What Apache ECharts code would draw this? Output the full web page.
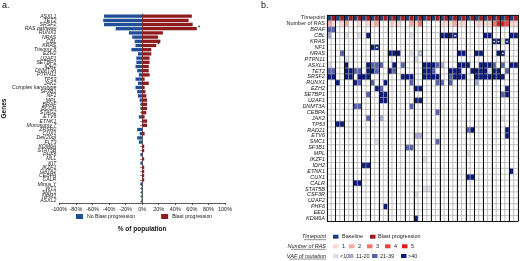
<!DOCTYPE html>
<html><head><meta charset="utf-8">
<script src="https://cdn.jsdelivr.net/npm/echarts@6/dist/echarts.min.js"></script>
<style>html,body{margin:0;padding:0;background:#fff}#c{width:520px;height:261px}</style>
</head><body><div id="c"></div>
<script>
// ---------- Panel a data ----------
const genesA = ['ASXL1','TET2','SRSF2','RAS pathway','RUNX1','NRAS','CBL','KRAS','Trisomy 8','EZH2','U2AF1','SETBP1','IDH2','DNMT3A','PTPN11','TP53','JAK2','Complex karyotype','SF3B1','NF1','MPL','BRAF','BCOR','STAG2','ETV6','ETNK1','Monosomy 7','ZRSR2','CUX1','Del(20q)','FLT3','KDM6A','STAT5B','PHF6','MLL','KIT','IKZF1','GATA2','CEBPA','CALR','Minus Y','WT1','SMC1','NPM1','ASXL2'];
const noBlast = [-46,-47,-46,-32,-16,-12,-9,-8,-13,-5,-7,-7,-8,-6,-4,-8,-5,-8,-6,-5,-3,-2,-2,-1,-4,0,0,-6,-3,-6,-4,0,0,-2,0,-2,0,0,0,0,-2,-1,-1,-1,-1];
const blast   = [60,56,61,66,25,19,22,17,11,11,9,9,8,8,9,3,8,3,4,5,6,6,6,5,3,6,6,0,3,0,0,2.5,2.5,0,2.5,0,2.5,2.5,2.5,2.5,0,0,0,0,0];
const starred = ['RAS pathway','KRAS'];
const seriesNamesA = ['No Blast progression','Blast progression'];

// ---------- Panel b data ----------
const patients = ['Pt1','Pt2','Pt3','Pt4','Pt5','Pt6','Pt7','Pt8','Pt9','Pt10','Pt11','Pt12','Pt13','Pt14','Pt15','Pt16','Pt17','Pt18','Pt19','Pt20','Pt21','Pt22'];
const timepoints = ['Baseline','Blast progression'];
const numRAS = [2,1,0,1,2,0,0,1,0,1,1,2,0,0,1,1,1,0,0,2,1,3,0,0,0,0,1,1,1,2,1,1,0,0,1,1,1,1,3,5,5,4,1,1];
const rasLevels = ['1','2','3','4','5'];
const vafLevels = ['<10','11-20','21-39','>40'];
// [gene, [column, VAF level 1..4] ...]
const vafRows = [
 ['BRAF',  [[0,3],[1,3]]],
 ['CBL',   [[0,2],[4,1],[7,1],[9,4],[19,1],[26,4],[27,4],[28,4],[29,4],[36,4],[37,4],[42,4],[43,4]]],
 ['KRAS',  [[38,4],[39,4],[40,1],[41,4]]],
 ['NF1',   [[10,4],[11,4]]],
 ['NRAS',  [[3,3],[14,4],[15,4],[16,4],[19,1],[21,2],[30,4],[31,4],[34,4],[35,4],[39,4],[40,4]]],
 ['PTPN11',[[4,1],[20,1]]],
 ['ASXL1', [[0,1],[4,4],[9,4],[10,3],[11,3],[12,3],[15,4],[17,3],[22,4],[23,4],[24,4],[25,3],[26,2],[30,4],[31,4],[32,4],[35,4],[36,4],[37,4],[38,3],[40,3],[42,4],[43,4]]],
 ['TET2',  [[0,3],[1,3],[4,4],[5,4],[6,3],[7,3],[9,4],[10,4],[11,3],[14,4],[15,3],[22,4],[23,4],[24,3],[28,4],[29,4],[30,4],[33,4],[34,4],[35,4],[36,4],[37,1],[38,4],[39,4],[41,3]]],
 ['SRSF2', [[0,4],[1,4],[4,4],[5,4],[7,4],[8,4],[9,4],[17,4],[18,4],[19,4],[22,4],[23,4],[24,4],[25,4],[28,3],[29,4],[30,4],[31,4],[34,4],[35,4],[36,4],[37,4],[38,4],[39,4],[40,4]]],
 ['RUNX1', [[2,4],[6,4],[7,3],[10,3],[13,4],[19,3],[25,3],[26,3],[28,3],[34,2]]],
 ['EZH2',  [[11,4],[12,3],[20,4],[21,4],[41,4]]],
 ['SETBP1',[[9,3],[12,4],[13,4],[40,3],[41,4]]],
 ['U2AF1', [[12,4],[13,4],[20,4],[21,4]]],
 ['DNMT3A',[[6,3],[7,3],[19,3]]],
 ['CEBPA', [[25,3]]],
 ['JAK2',  [[9,3],[12,2],[40,1]]],
 ['TP53',  [[2,4],[3,4]]],
 ['RAD21', [[32,3],[33,4],[41,4]]],
 ['ETV6',  [[20,2],[21,2],[41,4]]],
 ['SMC1',  [[11,1],[25,3]]],
 ['SF3B1', [[18,3],[19,3]]],
 ['MPL',   [[32,1]]],
 ['IKZF1', [[22,1]]],
 ['IDH2',  [[8,4],[9,4]]],
 ['ETNK1', [[42,4]]],
 ['CUX1',  [[32,4],[33,4]]],
 ['CALR',  [[6,4],[7,4]]],
 ['STAT5B',[[22,1],[23,1]]],
 ['CSF3R', [[20,1]]],
 ['U2AF2', []],
 ['PHF6',  [[13,4]]],
 ['EED',   []],
 ['KDM6A', [[20,4]]]
];
const multiClone = [['CBL',29],['NF1',11],['NRAS',21],['NRAS',40],['KRAS',38],['KRAS',39],['KRAS',41]];

// ---------- styles ----------
const FONT = 'Liberation Sans, Arial, sans-serif';
const BLUE = '#1f4f96', RED = '#8e1b1e';
const tpColors = ['#1f3d7a','#9e1a1f'];
const rasColors = ['#ffffff','#f9d9d3','#f4aaa0','#ee7469','#e6463e','#dd1a1e'];
const vafColors = ['#ffffff','#dcdde9','#a6aad0','#5762ad','#0c1a7c'];

const colsB = [];
patients.forEach(p => timepoints.forEach(t => colsB.push(p + ' ' + t)));
const rowsB = ['Timepoint','Number of RAS'].concat(vafRows.map(d => d[0]));

const heatData = [];
rowsB.forEach((row, r) => {
  colsB.forEach((col, c) => {
    let color = '#ffffff', dot = 0;
    if (r === 0) color = tpColors[timepoints.indexOf(col.split(' ').slice(1).join(' '))];
    else if (r === 1) color = rasColors[numRAS[c]];
    else {
      const cells = vafRows[r - 2][1];
      const hit = cells.find(e => e[0] === c);
      if (hit) color = vafColors[hit[1]];
      if (multiClone.some(m => m[0] === row && m[1] === c)) dot = 1;
    }
    heatData.push({value: [c, r, dot], itemStyle: {color}});
  });
});

// ---------- legend (panel b) ----------
const g = [];
function sq(x, y, color) { g.push({type:'rect', shape:{x:x, y:y-2, width:5.5, height:4}, style:{fill:color}}); }
function tx(x, y, text, extra) { g.push({type:'text', x:x, y:y, style:Object.assign({text:text, fontSize:5.5, fill:'#222', fontFamily:FONT, verticalAlign:'middle', align:'left'}, extra||{})}); }
function head(y, text, w) {
  tx(326, y, text, {align:'right', fontStyle:'italic'});
  g.push({type:'line', shape:{x1:326-w, y1:y+3, x2:326, y2:y+3}, style:{stroke:'#222', lineWidth:0.5}});
}
head(236.7, 'Timepoint', 22);
sq(333, 236.7, tpColors[0]); tx(342, 236.7, timepoints[0]);
sq(370, 236.7, tpColors[1]); tx(378, 236.7, timepoints[1]);
head(246.3, 'Number of RAS', 35);
[333,349,367,385,402].forEach((x, i) => { sq(x, 246.3, rasColors[i+1]); tx(x+9, 246.3, rasLevels[i]); });
head(256, 'VAF of mutation', 37);
[[333,340],[348,356],[372,380],[401,408]].forEach((p, i) => { sq(p[0], 256, vafColors[i+1]); tx(p[1], 256, vafLevels[i]); });
g.push({type:'text', x:2, y:1, style:{text:'a.', fontSize:9, fill:'#111', fontFamily:FONT}});
g.push({type:'text', x:261, y:1, style:{text:'b.', fontSize:9, fill:'#111', fontFamily:FONT}});

const chart = echarts.init(document.getElementById('c'), null, {renderer:'canvas'});
chart.setOption({
  animation: false,
  textStyle: {fontFamily: FONT},
  graphic: g,
  legend: {data: seriesNamesA, left: 76, top: 214, padding: 0, itemWidth: 7, itemHeight: 5, itemGap: 26,
           icon: 'rect', textStyle: {fontSize: 5.2, color: '#222', padding: [0,0,0,-1]}},
  grid: [{left:57, top:14, width:168, height:189}, {left:327, top:15, width:191, height:206.5}],
  xAxis: [
    {gridIndex:0, type:'value', min:-100, max:100, interval:20,
     axisLabel:{formatter: v => v + '%', fontSize:5.5, color:'#222', margin:3},
     axisLine:{show:true, lineStyle:{color:'#333', width:0.8}},
     axisTick:{show:true, length:2, lineStyle:{color:'#333', width:0.8}},
     splitLine:{show:false},
     name:'% of population', nameLocation:'middle', nameGap:23,
     nameTextStyle:{fontSize:6.5, fontWeight:'bold', color:'#111'}},
    {gridIndex:1, type:'category', data:colsB, z:5,
     axisLabel:{show:false}, axisTick:{show:false}, axisLine:{show:false},
     splitLine:{show:true, interval:1, lineStyle:{color:'#111', width:1}}}
  ],
  yAxis: [
    {gridIndex:0, type:'category', data:genesA, inverse:true,
     axisLabel:{fontSize:5.2, fontStyle:'italic', color:'#222', margin:3, interval:0},
     axisTick:{show:true, length:2, alignWithLabel:true, interval:0, lineStyle:{color:'#333', width:0.6}},
     axisLine:{show:true, lineStyle:{color:'#333', width:0.8}},
     name:'Genes', nameLocation:'middle', nameGap:46, nameRotate:90,
     nameTextStyle:{fontSize:6.5, fontWeight:'bold', color:'#111'}},
    {gridIndex:1, type:'category', data:rowsB, inverse:true, z:5,
     axisLabel:{interval:0, margin:2,
       formatter:(v, i) => (i < 2 ? '{n|' : '{i|') + v + '}',
       rich:{n:{fontSize:5.5, color:'#222'}, i:{fontSize:5.5, fontStyle:'italic', color:'#222'}}},
     axisTick:{show:false}, axisLine:{show:false},
     splitLine:{show:true, interval:(i) => i === 0, lineStyle:{color:'#111', width:1.2}}}
  ],
  series: [
    {type:'bar', name:seriesNamesA[0], xAxisIndex:0, yAxisIndex:0, data:noBlast,
     barWidth:3.3, barGap:'-100%', itemStyle:{color:BLUE}},
    {type:'bar', name:seriesNamesA[1], xAxisIndex:0, yAxisIndex:0,
     data: blast.map((v, i) => starred.includes(genesA[i])
        ? {value:v, label:{show:true, position:'right', formatter:'*', fontSize:6.5, distance:1, color:'#222'}} : v),
     barWidth:3.3, barGap:'-100%', itemStyle:{color:RED}},
    {type:'custom', xAxisIndex:1, yAxisIndex:1, data:heatData,
     renderItem:(params, api) => {
       const p = api.coord([api.value(0), api.value(1)]);
       const s = api.size([1, 1]);
       const kids = [{type:'rect', shape:{x:p[0]-s[0]/2, y:p[1]-s[1]/2, width:s[0], height:s[1]},
                      style:{fill:api.visual('color'), stroke:'#a0a0a0', lineWidth:0.5}}];
       if (api.value(2)) kids.push({type:'circle', shape:{cx:p[0], cy:p[1], r:0.9}, style:{fill:'#ffffff'}});
       return {type:'group', children:kids};
     }}
  ]
});
</script></body></html>
